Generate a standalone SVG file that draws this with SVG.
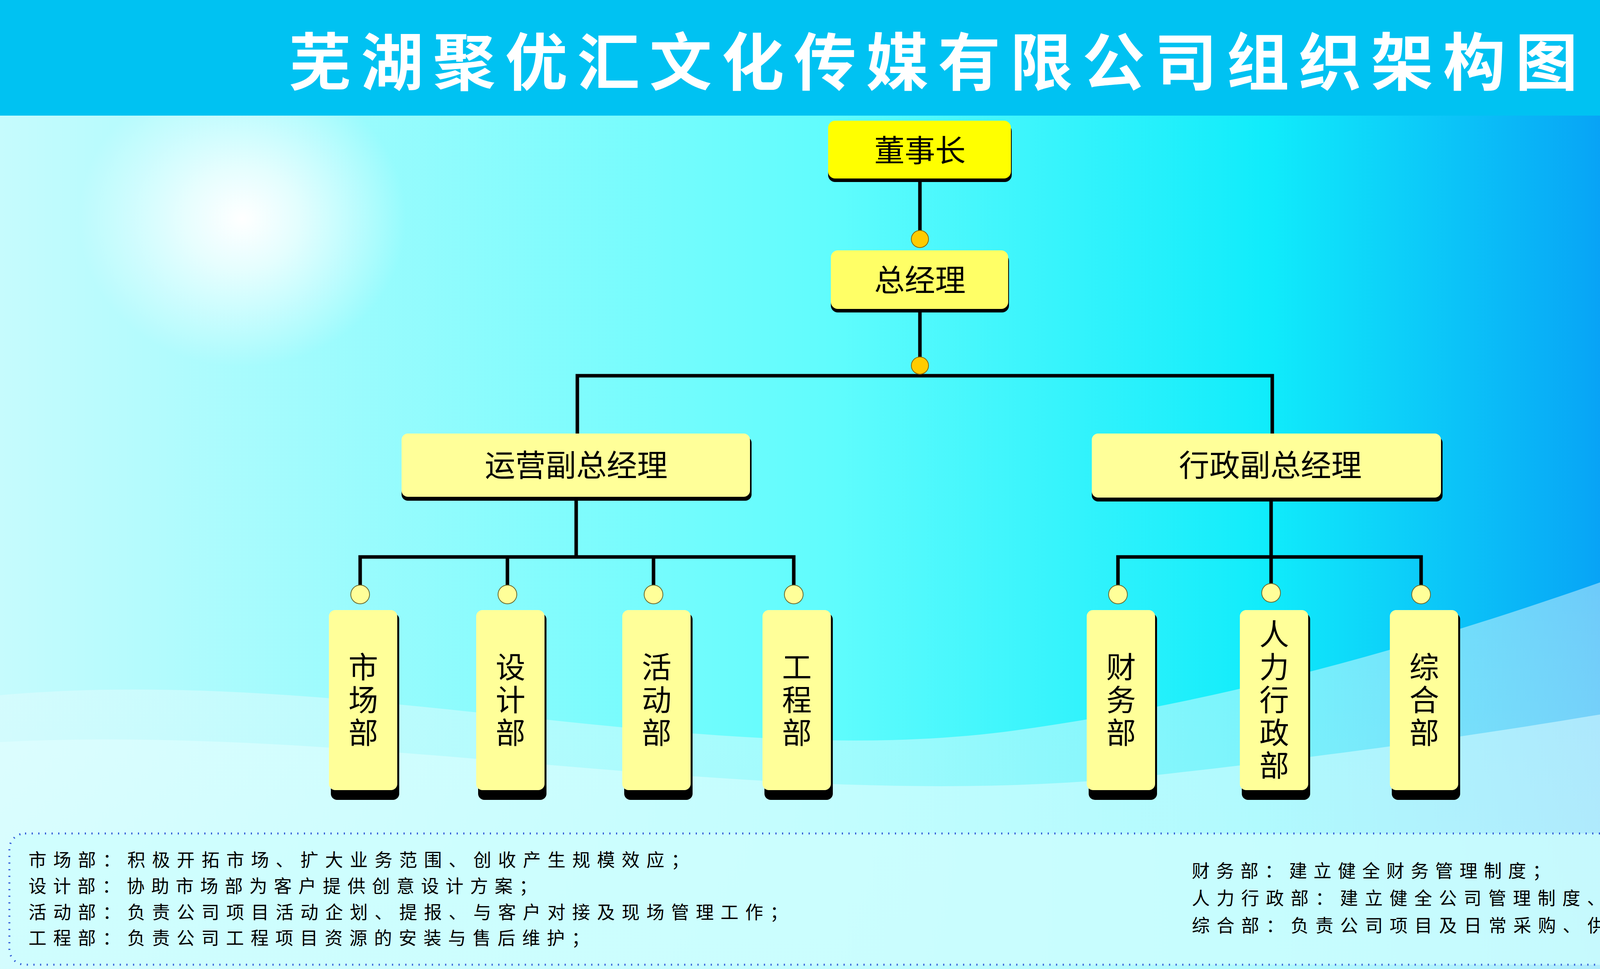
<svg xmlns="http://www.w3.org/2000/svg" width="4769" height="2481" viewBox="0 0 4769 2481">
<defs>
<linearGradient id="bg" x1="0" y1="0" x2="1" y2="0">
<stop offset="0" stop-color="#c6fbfd"/><stop offset="0.45" stop-color="#5ffcfd"/><stop offset="0.68" stop-color="#10ecfb"/><stop offset="0.85" stop-color="#08a8f6"/><stop offset="1" stop-color="#0655ef"/>
</linearGradient>
<radialGradient id="glow" cx="0.5" cy="0.5" r="0.5">
<stop offset="0" stop-color="#ffffff" stop-opacity="1"/><stop offset="0.35" stop-color="#ffffff" stop-opacity="0.7"/><stop offset="1" stop-color="#ffffff" stop-opacity="0"/>
</radialGradient>
<linearGradient id="wave" x1="0" y1="0" x2="0" y2="1">
<stop offset="0" stop-color="#ffffff" stop-opacity="0.55"/><stop offset="1" stop-color="#bff8fb" stop-opacity="0.9"/>
</linearGradient>
<style>
.ln{stroke:#000;stroke-width:9;fill:none}
.dot{fill:#ffcc00;stroke:#8a6a00;stroke-width:2}
.sdot{fill:#ffff99;stroke:#6b6b30;stroke-width:2}
.sh{fill:#000}
.box{fill:#ffff99}
.t{font-family:"Noto Sans CJK SC","Noto Sans",sans-serif;font-size:78px;fill:#000;text-anchor:middle}
.v{font-family:"Noto Sans CJK SC","Noto Sans",sans-serif;font-size:76px;fill:#000;writing-mode:vertical-rl;text-anchor:middle;letter-spacing:8px}
.d{font-family:"Noto Sans CJK SC","Noto Sans",sans-serif;font-size:46px;fill:#000}
</style>
</defs>
<rect width="4769" height="2481" fill="url(#bg)"/>
<ellipse cx="620" cy="560" rx="420" ry="380" fill="url(#glow)"/>
<path d="M0 1780 C900 1700 1800 1980 2600 1870 C3400 1760 4100 1500 4769 1240 L4769 2481 L0 2481 Z" fill="url(#wave)" opacity="0.7"/>
<path d="M0 1900 C1000 1850 2000 2100 3000 1980 C3800 1890 4300 1800 4769 1700 L4769 2481 L0 2481 Z" fill="#e6ffff" opacity="0.5"/>
<rect width="4769" height="296" fill="#00c2f2"/>
<text x="2389" y="218" font-family="Noto Sans CJK SC, sans-serif" font-weight="bold" font-size="160" fill="#ffffff" text-anchor="middle" textLength="3300" lengthAdjust="spacing">芜湖聚优汇文化传媒有限公司组织架构图</text>

<g id="connectors">
<path class="ln" d="M2355 465 V602"/>
<path class="ln" d="M2355 800 V936"/>
<path class="ln" d="M1478 1110 V962 H3257 V1110"/>
<path class="ln" d="M1475 1280 V1426"/>
<path class="ln" d="M922 1521 V1426 H2032 V1521 M1299 1426 V1521 M1673 1426 V1521"/>
<path class="ln" d="M3254 1280 V1521"/>
<path class="ln" d="M2862 1521 V1426 H3638 V1521"/>
<circle class="dot" cx="2355" cy="612" r="22"/>
<circle class="dot" cx="2355" cy="936" r="22"/>
<circle class="sdot" cx="922" cy="1522" r="24"/>
<circle class="sdot" cx="1299" cy="1522" r="24"/>
<circle class="sdot" cx="1673" cy="1522" r="24"/>
<circle class="sdot" cx="2032" cy="1522" r="24"/>
<circle class="sdot" cx="2862" cy="1522" r="24"/>
<circle class="sdot" cx="3254" cy="1518" r="24"/>
<circle class="sdot" cx="3638" cy="1522" r="24"/>
</g>

<g id="n-chairman"><rect class="sh" x="2120" y="318" width="470" height="148" rx="18"/><rect x="2120" y="309" width="468" height="148" rx="18" fill="#ffff00"/><text class="t" x="2355" y="414">董事长</text></g>
<g id="n-gm"><rect class="sh" x="2127" y="650" width="456" height="150" rx="18"/><rect x="2127" y="641" width="454" height="150" rx="18" fill="#ffff66"/><text class="t" x="2355" y="746">总经理</text></g>
<g id="n-vp-ops"><rect class="sh" x="1028" y="1118" width="896" height="164" rx="16"/><rect class="box" x="1028" y="1110" width="892" height="162" rx="16"/><text class="t" x="1475" y="1220">运营副总经理</text></g>
<g id="n-vp-admin"><rect class="sh" x="2795" y="1118" width="898" height="166" rx="16"/><rect class="box" x="2795" y="1110" width="894" height="164" rx="16"/><text class="t" x="3252" y="1220">行政副总经理</text></g>

<g id="n-market"><rect class="sh" x="847" y="1570" width="175" height="478" rx="16"/><rect class="box" x="842" y="1562" width="175" height="461" rx="16"/><text class="v" x="930" y="1795">市场部</text></g>
<g id="n-design"><rect class="sh" x="1224" y="1570" width="175" height="478" rx="16"/><rect class="box" x="1219" y="1562" width="175" height="461" rx="16"/><text class="v" x="1307" y="1795">设计部</text></g>
<g id="n-event"><rect class="sh" x="1598" y="1570" width="175" height="478" rx="16"/><rect class="box" x="1593" y="1562" width="175" height="461" rx="16"/><text class="v" x="1681" y="1795">活动部</text></g>
<g id="n-eng"><rect class="sh" x="1957" y="1570" width="175" height="478" rx="16"/><rect class="box" x="1952" y="1562" width="175" height="461" rx="16"/><text class="v" x="2040" y="1795">工程部</text></g>
<g id="n-finance"><rect class="sh" x="2787" y="1570" width="175" height="478" rx="16"/><rect class="box" x="2782" y="1562" width="175" height="461" rx="16"/><text class="v" x="2870" y="1795">财务部</text></g>
<g id="n-hr"><rect class="sh" x="3179" y="1570" width="175" height="478" rx="16"/><rect class="box" x="3174" y="1562" width="175" height="461" rx="16"/><text class="v" x="3262" y="1795">人力行政部</text></g>
<g id="n-general"><rect class="sh" x="3563" y="1570" width="175" height="478" rx="16"/><rect class="box" x="3558" y="1562" width="175" height="461" rx="16"/><text class="v" x="3646" y="1795">综合部</text></g>

<g id="notes">
<rect x="24" y="2134" width="4721" height="336" rx="40" fill="#cdfdfd" fill-opacity="0.75" stroke="#2f5ad8" stroke-width="5" stroke-dasharray="3 14"/>
<text class="d" x="73" y="2218" textLength="1691" lengthAdjust="spacing">市场部：积极开拓市场、扩大业务范围、创收产生规模效应；</text>
<text class="d" x="73" y="2285" textLength="1302" lengthAdjust="spacing">设计部：协助市场部为客户提供创意设计方案；</text>
<text class="d" x="73" y="2352" textLength="1944" lengthAdjust="spacing">活动部：负责公司项目活动企划、提报、与客户对接及现场管理工作；</text>
<text class="d" x="73" y="2418" textLength="1436" lengthAdjust="spacing">工程部：负责公司工程项目资源的安装与售后维护；</text>
<text class="d" x="3051" y="2246" textLength="918" lengthAdjust="spacing">财务部：建立健全财务管理制度；</text>
<text class="d" x="3051" y="2316" textLength="1627" lengthAdjust="spacing">人力行政部：建立健全公司管理制度、维护公司公共秩序；</text>
<text class="d" x="3051" y="2386" textLength="1502" lengthAdjust="spacing">综合部：负责公司项目及日常采购、供应商维护管理。</text>
</g>
</svg>
